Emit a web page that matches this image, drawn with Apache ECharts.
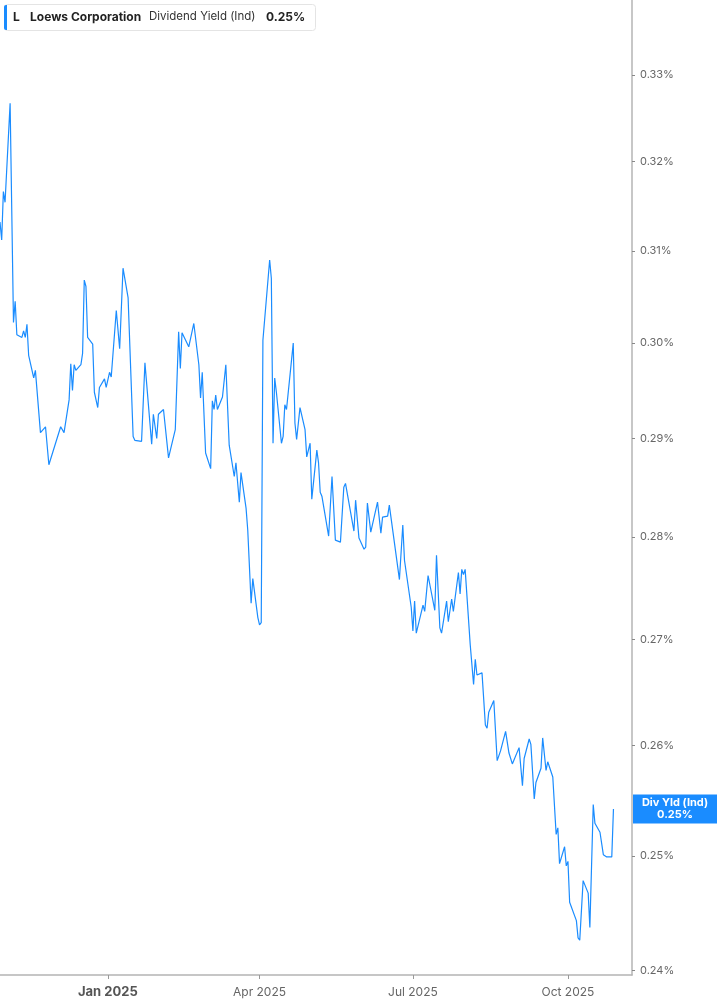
<!DOCTYPE html>
<html>
<head>
<meta charset="utf-8">
<script src="https://cdn.jsdelivr.net/npm/echarts@6/dist/echarts.min.js"></script>
<style>
html,body{margin:0;padding:0;background:#fff;}
#chart{width:717px;height:1005px;}
</style>
</head>
<body>
<div id="chart"></div>
<script>
var dates = [
'2024-10-29','2024-10-30','2024-10-31','2024-11-01','2024-11-04','2024-11-06','2024-11-07','2024-11-08','2024-11-11','2024-11-12',
'2024-11-13','2024-11-14','2024-11-15','2024-11-18','2024-11-19','2024-11-22','2024-11-25','2024-11-27','2024-12-04','2024-12-06',
'2024-12-09','2024-12-10','2024-12-11','2024-12-12','2024-12-13','2024-12-16','2024-12-17','2024-12-18','2024-12-19','2024-12-20',
'2024-12-23','2024-12-24','2024-12-26','2024-12-27','2024-12-30','2024-12-31','2025-01-02','2025-01-03','2025-01-06','2025-01-08',
'2025-01-10','2025-01-13','2025-01-16','2025-01-17','2025-01-21','2025-01-23','2025-01-27','2025-01-28','2025-01-30','2025-01-31',
'2025-02-03','2025-02-06','2025-02-07','2025-02-10','2025-02-12','2025-02-13','2025-02-14','2025-02-18','2025-02-21','2025-02-24',
'2025-02-25','2025-02-26','2025-02-28','2025-03-03','2025-03-04','2025-03-05','2025-03-06','2025-03-07','2025-03-10','2025-03-12',
'2025-03-14','2025-03-17','2025-03-18','2025-03-20','2025-03-21','2025-03-24','2025-03-25','2025-03-27','2025-03-28','2025-03-31',
'2025-04-01','2025-04-02','2025-04-03','2025-04-07','2025-04-08','2025-04-09','2025-04-10','2025-04-11','2025-04-14','2025-04-15',
'2025-04-16','2025-04-17','2025-04-21','2025-04-22','2025-04-23','2025-04-25','2025-04-28','2025-04-29','2025-04-30','2025-05-01',
'2025-05-02','2025-05-05','2025-05-06','2025-05-07','2025-05-08','2025-05-12','2025-05-14','2025-05-16','2025-05-19','2025-05-21',
'2025-05-22','2025-05-27','2025-05-28','2025-05-30','2025-06-02','2025-06-03','2025-06-04','2025-06-06','2025-06-10','2025-06-12',
'2025-06-13','2025-06-16','2025-06-17','2025-06-18','2025-06-23','2025-06-25','2025-06-26','2025-06-30','2025-07-01','2025-07-02',
'2025-07-03','2025-07-07','2025-07-08','2025-07-10','2025-07-11','2025-07-14','2025-07-15','2025-07-17','2025-07-18','2025-07-21',
'2025-07-22','2025-07-24','2025-07-25','2025-07-28','2025-07-29','2025-07-30','2025-07-31','2025-08-01','2025-08-04','2025-08-06',
'2025-08-07','2025-08-08','2025-08-11','2025-08-13','2025-08-14','2025-08-15','2025-08-18','2025-08-20','2025-08-22','2025-08-25',
'2025-08-27','2025-08-29','2025-09-02','2025-09-04','2025-09-05','2025-09-08','2025-09-09','2025-09-11','2025-09-12','2025-09-15',
'2025-09-16','2025-09-18','2025-09-19','2025-09-22','2025-09-24','2025-09-25','2025-09-26','2025-09-29','2025-09-30','2025-10-01',
'2025-10-02','2025-10-03','2025-10-06','2025-10-07','2025-10-08','2025-10-10','2025-10-13','2025-10-14','2025-10-16','2025-10-17',
'2025-10-20','2025-10-22','2025-10-23','2025-10-24','2025-10-27','2025-10-28'
];
var yieldPct = [
0.3132,0.3112,0.3166,0.3154,0.3267,0.3022,0.3045,0.3009,0.3006,0.3013,
0.3006,0.3020,0.2987,0.2963,0.2971,0.2906,0.2912,0.2873,0.2912,0.2906,
0.2940,0.2978,0.2950,0.2977,0.2971,0.2977,0.2989,0.3068,0.3061,0.3006,
0.2999,0.2948,0.2932,0.2953,0.2962,0.2953,0.2969,0.2964,0.3035,0.2994,
0.3081,0.3049,0.2902,0.2898,0.2897,0.2979,0.2894,0.2925,0.2900,0.2925,
0.2930,0.2880,0.2881,0.2909,0.3012,0.2973,0.3011,0.2996,0.3021,0.2977,
0.2942,0.2969,0.2885,0.2869,0.2939,0.2930,0.2945,0.2930,0.2943,0.2977,
0.2893,0.2861,0.2875,0.2835,0.2865,0.2829,0.2807,0.2735,0.2759,0.2721,
0.2714,0.2716,0.3003,0.3090,0.3070,0.2895,0.2963,0.2948,0.2895,0.2902,
0.2935,0.2930,0.3000,0.2916,0.2899,0.2932,0.2909,0.2881,0.2880,0.2895,
0.2838,0.2888,0.2875,0.2845,0.2841,0.2801,0.2861,0.2797,0.2795,0.2850,
0.2854,0.2806,0.2837,0.2799,0.2788,0.2790,0.2834,0.2805,0.2835,0.2804,
0.2820,0.2821,0.2832,0.2830,0.2758,0.2812,0.2777,0.2731,0.2708,0.2737,
0.2706,0.2733,0.2727,0.2762,0.2761,0.2728,0.2782,0.2711,0.2706,0.2737,
0.2717,0.2739,0.2727,0.2765,0.2744,0.2768,0.2763,0.2768,0.2695,0.2657,
0.2681,0.2666,0.2668,0.2619,0.2616,0.2631,0.2642,0.2586,0.2595,0.2613,
0.2593,0.2583,0.2598,0.2563,0.2588,0.2606,0.2601,0.2551,0.2566,0.2579,
0.2607,0.2577,0.2585,0.2571,0.2519,0.2525,0.2493,0.2508,0.2491,0.2495,
0.2459,0.2458,0.2443,0.2428,0.2426,0.2478,0.2467,0.2437,0.2546,0.2529,
0.2521,0.2501,0.2502,0.2499,0.2499,0.2542
];
var yTicks = [0.24,0.25,0.26,0.27,0.28,0.29,0.30,0.31,0.32,0.33];
var xTickDates = ['2025-01-01','2025-04-01','2025-07-01','2025-10-01'];
var monthNames = ['Jan','Feb','Mar','Apr','May','Jun','Jul','Aug','Sep','Oct','Nov','Dec'];
var xMin = '2024-10-29', xMax = '2025-11-08';
var yMin = 0.23962, yMax = 0.33893;

function ts(s){ return new Date(s + 'T00:00:00Z').getTime(); }

var lineColor = '#1a8cff';
var chart = echarts.init(document.getElementById('chart'), null, {renderer:'canvas'});

var seriesData = dates.map(function(d,i){ return [ts(d), Math.log(yieldPct[i])]; });

var option = {
  animation:false,
  backgroundColor:'#fff',
  grid:{left:0,right:85,top:0,bottom:30,containLabel:false},
  xAxis:{
    type:'value',
    scale:true,
    min:ts(xMin), max:ts(xMax),
    axisLine:{show:true,lineStyle:{color:'#b4b4b4',width:1.5}},
    axisTick:{show:true,length:4,lineStyle:{color:'#999'},customValues:xTickDates.map(ts)},
    splitLine:{show:false},
    axisLabel:{
      customValues:xTickDates.map(ts),
      margin:11,
      fontFamily:'Inter',
      fontSize:12,
      color:'#666',
      formatter:function(v){
        var d = new Date(v);
        var m = d.getUTCMonth();
        var txt = monthNames[m] + ' ' + d.getUTCFullYear();
        return m === 0 ? '{b|' + txt + '}' : txt;
      },
      rich:{b:{fontWeight:'bold',fontSize:13,color:'#555',fontFamily:'Inter'}}
    }
  },
  yAxis:{
    type:'value',
    position:'right',
    scale:true,
    min:Math.log(yMin), max:Math.log(yMax),
    axisLine:{show:true,lineStyle:{color:'#b4b4b4',width:1.5}},
    axisTick:{show:true,length:3,lineStyle:{color:'#888'},customValues:yTicks.map(Math.log)},
    splitLine:{show:false},
    axisLabel:{
      customValues:yTicks.map(Math.log),
      margin:8,
      fontFamily:'Inter',
      fontSize:11,
      color:'#666',
      formatter:function(v){ return Math.exp(v).toFixed(2) + '%'; }
    }
  },
  series:[{
    type:'line',
    data:seriesData,
    showSymbol:false,
    symbol:'none',
    lineStyle:{color:lineColor,width:1.2},
    clip:true
  }]
};
chart.setOption(option);

var last = yieldPct[yieldPct.length-1];
var lastY = chart.convertToPixel({yAxisIndex:0}, Math.log(last));
var gridRight = 717 - 85;
chart.setOption({graphic:[
  {type:'rect',shape:{x:4.5,y:4.5,width:311,height:26,r:3},style:{fill:'#fff',stroke:'#e4e4e4',lineWidth:1},z:100},
  {type:'rect',shape:{x:4,y:5,width:3,height:25,r:[2,0,0,2]},style:{fill:lineColor},z:101},
  {type:'text',x:13,y:17,style:{text:'L',font:'bold 12px Inter',fill:'#222',textVerticalAlign:'middle'},z:101},
  {type:'text',x:30,y:17,style:{text:'Loews Corporation',font:'bold 12px Inter',fill:'#222',textVerticalAlign:'middle'},z:101},
  {type:'text',x:149,y:17,style:{text:'Dividend Yield (Ind)',font:'11.5px Inter',fill:'#333',textVerticalAlign:'middle'},z:101},
  {type:'text',x:266,y:17,style:{text:last.toFixed(2)+'%',font:'bold 12px Inter',fill:'#222',textVerticalAlign:'middle'},z:101},
  {type:'rect',shape:{x:gridRight+1,y:lastY-14.5,width:717-gridRight-1,height:29},style:{fill:lineColor},z:100},
  {type:'text',x:(gridRight+717)/2+0.5,y:lastY-6,style:{text:'Div Yld (Ind)',font:'bold 11px Inter',fill:'#fff',textAlign:'center',textVerticalAlign:'middle'},z:101},
  {type:'text',x:(gridRight+717)/2+0.5,y:lastY+6,style:{text:last.toFixed(2)+'%',font:'bold 11px Inter',fill:'#fff',textAlign:'center',textVerticalAlign:'middle'},z:101}
]});
</script>
</body>
</html>
